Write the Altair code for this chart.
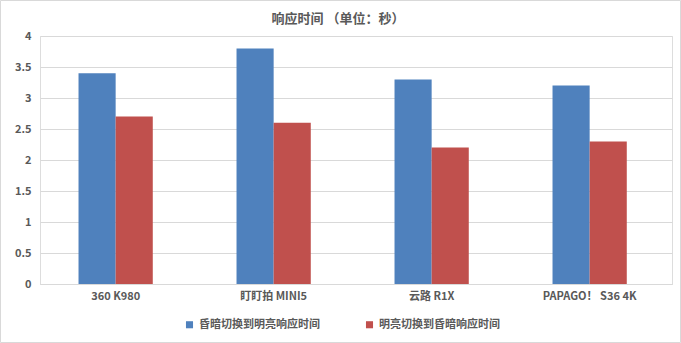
import altair as alt
import pandas as pd

categories = ["360 K980", "盯盯拍 MINI5", "云路 R1X", "PAPAGO！ S36 4K"]
series_names = ["昏暗切换到明亮响应时间", "明亮切换到昏暗响应时间"]
dark_to_bright = [3.4, 3.8, 3.3, 3.2]
bright_to_dark = [2.7, 2.6, 2.2, 2.3]
colors = ["#4F81BD", "#C0504D"]
title_text = "响应时间 （单位：秒）"

rows = []
for i, c in enumerate(categories):
    rows.append({"cat": c, "series": series_names[0], "value": dark_to_bright[i]})
    rows.append({"cat": c, "series": series_names[1], "value": bright_to_dark[i]})
df = pd.DataFrame(rows)

FONT = "Noto Sans CJK SC"
W, H = 632, 248
PAD = {"left": 40, "top": 36, "right": 9, "bottom": 59}

bars = alt.Chart(df).mark_bar().encode(
    x=alt.X("cat:N", sort=categories, title=None,
            scale=alt.Scale(paddingInner=0.53, paddingOuter=0.265, align=0.46),
            axis=alt.Axis(labelAngle=0, ticks=False, domain=True, domainColor="#d9d9d9",
                          labelFontWeight="bold", labelColor="#595959", labelFontSize=11,
                          labelPadding=6, labelFont=FONT)),
    xOffset=alt.XOffset("series:N", sort=series_names),
    y=alt.Y("value:Q", title=None,
            scale=alt.Scale(domain=[0, 4], nice=False),
            axis=alt.Axis(values=[0, 0.5, 1, 1.5, 2, 2.5, 3, 3.5, 4], format="~g",
                          ticks=False, domain=False, gridColor="#d9d9d9",
                          labelFontWeight="bold", labelColor="#595959", labelFontSize=11,
                          labelPadding=9, labelFont=FONT)),
    color=alt.Color("series:N", sort=series_names,
                    scale=alt.Scale(domain=series_names, range=colors),
                    legend=alt.Legend(title=None, orient="none", direction="horizontal",
                                      legendX=144, legendY=283,
                                      symbolType="square", symbolSize=50,
                                      symbolStrokeWidth=0, columnPadding=44,
                                      labelFont=FONT, labelFontSize=11,
                                      labelColor="#595959", labelFontWeight="bold")),
)

border = alt.Chart(pd.DataFrame({"a": [0]})).mark_rect(
    fill=None, stroke="#d9d9d9", strokeWidth=1, clip=False
).encode(
    x=alt.value(-39.5), x2=alt.value(W + 8.5),
    y=alt.value(-35.5), y2=alt.value(H + 58.5),
)

title = alt.Chart(pd.DataFrame({"t": [title_text]})).mark_text(
    font=FONT, fontSize=13, fontWeight="bold", color="#595959",
    align="center", baseline="middle"
).encode(
    text="t:N", x=alt.value(W / 2 - 18), y=alt.value(-17),
)

chart = alt.layer(border, title, bars).properties(
    width=W, height=H,
    autosize=alt.AutoSizeParams(type="none"),
    padding=PAD,
).configure_view(stroke=None).configure(background="white")

chart.save("out.html", embed_options={"renderer": "svg", "actions": False})
